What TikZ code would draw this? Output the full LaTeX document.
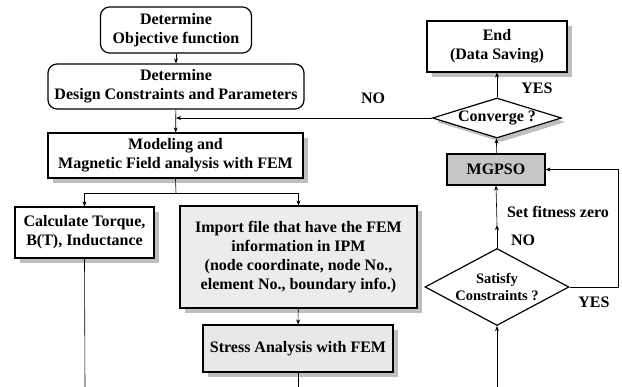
\documentclass[tikz,border=0pt]{standalone}
\usepackage{fontspec}
\setmainfont{Liberation Serif}
\usetikzlibrary{shapes.geometric, shadows, arrows.meta}

\newcommand{\bigbf}{\fontsize{16}{19}\selectfont\bfseries}
\newcommand{\midbf}{\fontsize{14.5}{17}\selectfont\bfseries}

\tikzset{
  base/.style={draw, line width=1.2pt, align=center, inner sep=0pt, font=\bigbf},
  rbox/.style={base, rounded corners=9pt},
  sbox/.style={base, drop shadow={shadow xshift=5pt, shadow yshift=-5pt, fill=black!25, opacity=1}, fill=white},
  dec/.style={base, diamond},
  arr/.style={-{Stealth[length=5pt, width=4pt]}, line width=0.6pt},
  con/.style={line width=0.6pt},
  lbl/.style={font=\bigbf, inner sep=0pt}
}

\begin{document}
\begin{tikzpicture}[x=1pt, y=-1pt]
  \useasboundingbox (0, 0) rectangle (622, 387);

  % Left column
  \node[rbox, minimum width=151, minimum height=46] (obj) at (176, 30) {Determine\\Objective function};
  \node[rbox, minimum width=256, minimum height=45] (design) at (176, 86.5) {Determine\\Design Constraints and Parameters};
  \node[sbox, minimum width=255, minimum height=45] (model) at (175.5, 155.5) {Modeling and\\Magnetic Field analysis with FEM};
  \node[sbox, minimum width=139, minimum height=51] (calc) at (84.5, 232.5) {Calculate Torque,\\B(T), Inductance};
  \node[sbox, fill=gray!15, minimum width=237, minimum height=102] (imp) at (298.5, 257) {Import file that have the FEM\\information in IPM\\(node coordinate, node No.,\\element No., boundary info.)};
  \node[sbox, fill=gray!18, minimum width=190, minimum height=47] (stress) at (298, 348.5) {Stress Analysis with FEM};

  % Right column
  \node[sbox, minimum width=140, minimum height=51] (end) at (497, 46.5) {End\\(Data Saving)};
  \node[dec, drop shadow={shadow xshift=4pt, shadow yshift=-4pt, fill=black!25, opacity=1}, fill=white, aspect=3.2, minimum width=129, minimum height=40] (conv) at (497, 118) {Converge ?};
  \node[base, fill=gray!45, minimum width=98, minimum height=31] (mgpso) at (496, 169.5) {MGPSO};
  \node[dec, aspect=1.87, minimum width=144, minimum height=77, font=\midbf] (sat) at (497, 287) {Satisfy\\Constraints ?};

  \coordinate (split) at (176, 193);
  \coordinate (mid) at (497, 225);
  \coordinate (calcend) at (85, 387);
  \coordinate (stressend) at (298, 387);
  \coordinate (satin) at (497, 387);
  \coordinate (loop) at (618, 287);

  % Connectors
  \draw[arr] (obj) -- (design);
  \draw[arr] (design) -- (model);
  \draw[arr] (conv.west) -- (conv.west -| design.south);
  \draw[con] (model.south) -- (split);
  \draw[arr] (split) -| (calc.north);
  \draw[arr] (split) -| (imp.north);
  \draw[con] (calc.south) -- (calcend);
  \draw[arr] (imp) -- (stress);
  \draw[con] (stress.south) -- (stressend);
  \draw[arr] (satin) -- (sat.south);
  \draw[arr] (sat.north) -- (mid);
  \draw[arr] (mid) -- (mgpso.south);
  \draw[arr] (sat.east) -- (loop) |- (mgpso.east);
  \draw[arr] (mgpso) -- (conv);
  \draw[arr] (conv) -- (end);

  % Labels
  \node[lbl] (noconv) at (373, 98) {NO};
  \node[lbl] (yesconv) at (537, 88) {YES};
  \node[lbl] (setfit) at (558, 212) {Set fitness zero};
  \node[lbl] (nosat) at (523, 240) {NO};
  \node[lbl] (yessat) at (594, 302) {YES};
\end{tikzpicture}
\end{document}
